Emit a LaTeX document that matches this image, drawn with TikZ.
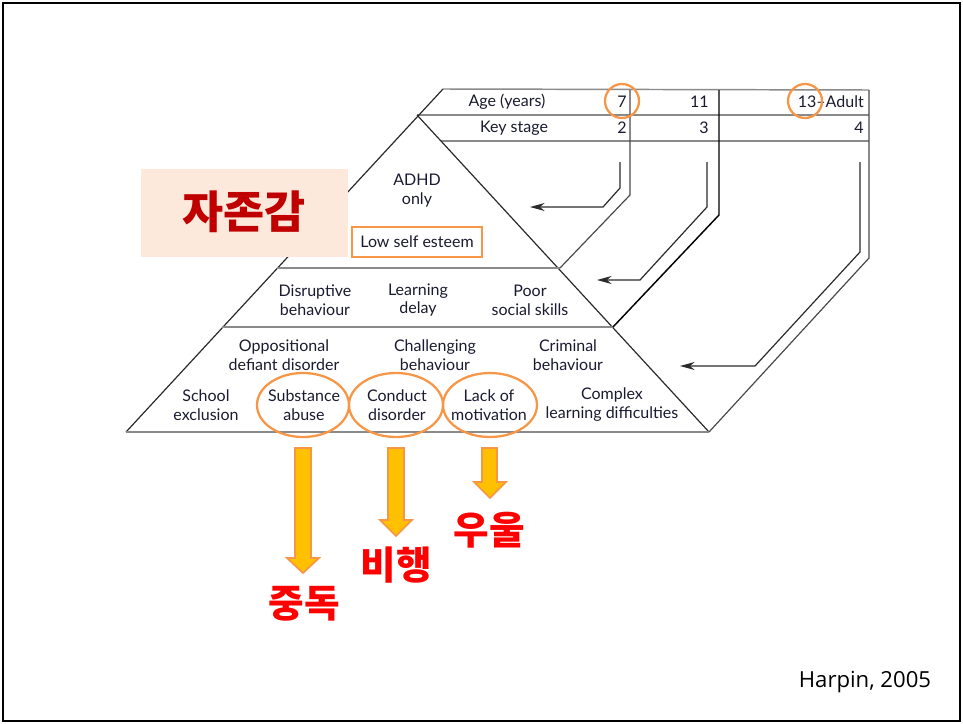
\documentclass[tikz,border=0pt]{standalone}
\usepackage{fontspec}
\setmainfont{Lato}
\newfontfamily\krfont{Noto Sans CJK KR}
\newfontfamily\harpfont{Open Sans}
\usetikzlibrary{arrows.meta}
\definecolor{orng}{HTML}{F79646}
\definecolor{gold}{HTML}{FFC000}
\definecolor{peach}{HTML}{FCE9DC}
\definecolor{dred}{HTML}{C00000}
\definecolor{linegray}{HTML}{8A8A8A}
\definecolor{ink}{HTML}{2A2A2A}
\definecolor{txt}{HTML}{1A1A30}
\begin{document}
\begin{tikzpicture}[x=0.75pt,y=-0.75pt,
  lbl/.style={align=center,font=\fontsize{12}{14.2}\selectfont,text=txt,inner sep=0pt},
  tbl/.style={font=\fontsize{12}{14.2}\selectfont,text=txt,inner sep=0pt},
  edge/.style={draw=ink,line width=0.9pt},
  hline/.style={draw=linegray,line width=1.1pt},
  guide/.style={draw=ink!85,line width=0.9pt},
  ptr/.style={draw=ink,line width=0.9pt,-{Stealth[length=11pt,width=6pt]}},
  ring/.style={draw=orng,line width=1.7pt},
  blockarrow/.style={fill=gold,draw=orng,line width=1.3pt,line join=miter},
  kred/.style={font=\krfont\bfseries\fontsize{29}{32}\selectfont,text=red,inner sep=0pt}
]
\useasboundingbox (0,0) rectangle (963,724);
% slide frame
\draw[line width=1.6pt] (3,3) rectangle (960,721);

% key points
\coordinate (BL) at (126,432);
\coordinate (BR) at (709,432);
\coordinate (AP) at (417,115);
\coordinate (TL) at (443,89);
\coordinate (T1L) at (277,268);
\coordinate (T1R) at (560,268);
\coordinate (T2L) at (222,327);
\coordinate (T2R) at (613,327);

% table lines
\coordinate (R0R) at (869,90);
\coordinate (R1L) at (AP);
\coordinate (R1R) at (869,115);
\coordinate (R2L) at (441,141);
\coordinate (R2R) at (869,141);
\draw[hline] (TL) -- (R0R);
\draw[hline] (R1L) -- (R1R);
\draw[hline] (R2L) -- (R2R);

% pyramid
\draw[edge] (BL) -- (TL);
\draw[edge] (AP) -- (BR);
\draw[hline] (T1L) -- (T1R);
\draw[hline] (T2L) -- (T2R);
\draw[hline] (BL) -- (BR);

% outer guide lines (column separators)
\coordinate (C1a) at (630,90);
\coordinate (C1b) at (630,195);
\coordinate (C2a) at (719,90);
\coordinate (C2b) at (719,215);
\coordinate (C3a) at (869,90);
\coordinate (C3b) at (869,258);
\draw[guide] (C1a) -- (C1b) -- (T1R);
\draw[guide,draw=black,line width=1.1pt] (C2a) -- (C2b) -- (T2R);
\draw[guide] (C3a) -- (C3b) -- (BR);

% inner arrows
\coordinate (I1a) at (620,162);
\coordinate (I1b) at (620,188);
\coordinate (I1c) at (603,207);
\coordinate (I1d) at (530,207);
\coordinate (I2a) at (707,162);
\coordinate (I2b) at (707,207);
\coordinate (I2c) at (640,280);
\coordinate (I2d) at (597,280);
\coordinate (I3a) at (860,162);
\coordinate (I3b) at (860,252);
\coordinate (I3c) at (755,366);
\coordinate (I3d) at (680,366);
\draw[ptr] (I1a) -- (I1b) -- (I1c) -- (I1d);
\draw[ptr] (I2a) -- (I2b) -- (I2c) -- (I2d);
\draw[ptr] (I3a) -- (I3b) -- (I3c) -- (I3d);

% table text
\node[tbl] (age) at (507,102) {Age (years)};
\node[tbl,anchor=east] (a7) at (627,102) {7};
\node[tbl,anchor=east] (a11) at (709,102) {11};
\node[tbl,anchor=east] (a13) at (864,102) {13–Adult};
\node[tbl] (ks) at (514,128) {Key stage};
\node[tbl,anchor=east] (k2) at (627,128) {2};
\node[tbl,anchor=east] (k3) at (709,128) {3};
\node[tbl,anchor=east] (k4) at (864,128) {4};
\draw[ring] (622,101) circle (17);
\draw[ring] (805,101) circle (17);

% pyramid text
\node[lbl] (adhd) at (417,191) {ADHD\\only};
\node[lbl,draw=orng,line width=1.7pt,minimum width=98pt,minimum height=22.5pt] (lse) at (417,242) {Low self esteem};
\node[fill=peach,minimum width=155pt,minimum height=66pt,inner sep=0pt] (jj) at (244.5,213) {};
\node[font=\krfont\bfseries\fontsize{33.5}{36}\selectfont,text=dred,inner sep=0pt] (jjt) at (244,212) {자존감};

\node[lbl] (dis) at (315,300) {Disruptive\\behaviour};
\node[lbl] (ld) at (418,300) {Learning\\delay};
\node[lbl] (pss) at (530,300) {Poor\\social skills};

\node[lbl] (odd) at (284,355) {Oppositional\\defiant disorder};
\node[lbl] (cb) at (435,355) {Challenging\\behaviour};
\node[lbl] (crb) at (568,355) {Criminal\\behaviour};

\node[lbl] (se) at (206,405) {School\\exclusion};
\node[lbl] (sa) at (304,405) {Substance\\abuse};
\node[lbl] (cd) at (397,405) {Conduct\\disorder};
\node[lbl] (lm) at (489,405) {Lack of\\motivation};
\node[lbl] (cld) at (612,405) {Complex\\learning difficulties};

\draw[ring] (303,405) ellipse (46 and 32);
\draw[ring] (396,405) ellipse (47 and 32);
\draw[ring] (490,405) ellipse (47 and 32);

% block arrows
\draw[blockarrow] (295,448) -- (311,448) -- (311,558) -- (319,558) -- (303,573) -- (287,558) -- (295,558) -- cycle;
\draw[blockarrow] (388,448) -- (404,448) -- (404,520) -- (412,520) -- (396,536) -- (380,520) -- (388,520) -- cycle;
\draw[blockarrow] (482,448) -- (497,448) -- (497,482) -- (506,482) -- (490,498) -- (474,482) -- (482,482) -- cycle;

\node[kred] (jd) at (304,604) {중독};
\node[kred] (bh) at (396,565) {비행};
\node[kred] (uu) at (489,530) {우울};

\node[font=\harpfont\fontsize{16.6}{18}\selectfont,inner sep=0pt] (harp) at (865,682) {Harpin, 2005};
\end{tikzpicture}
\end{document}
